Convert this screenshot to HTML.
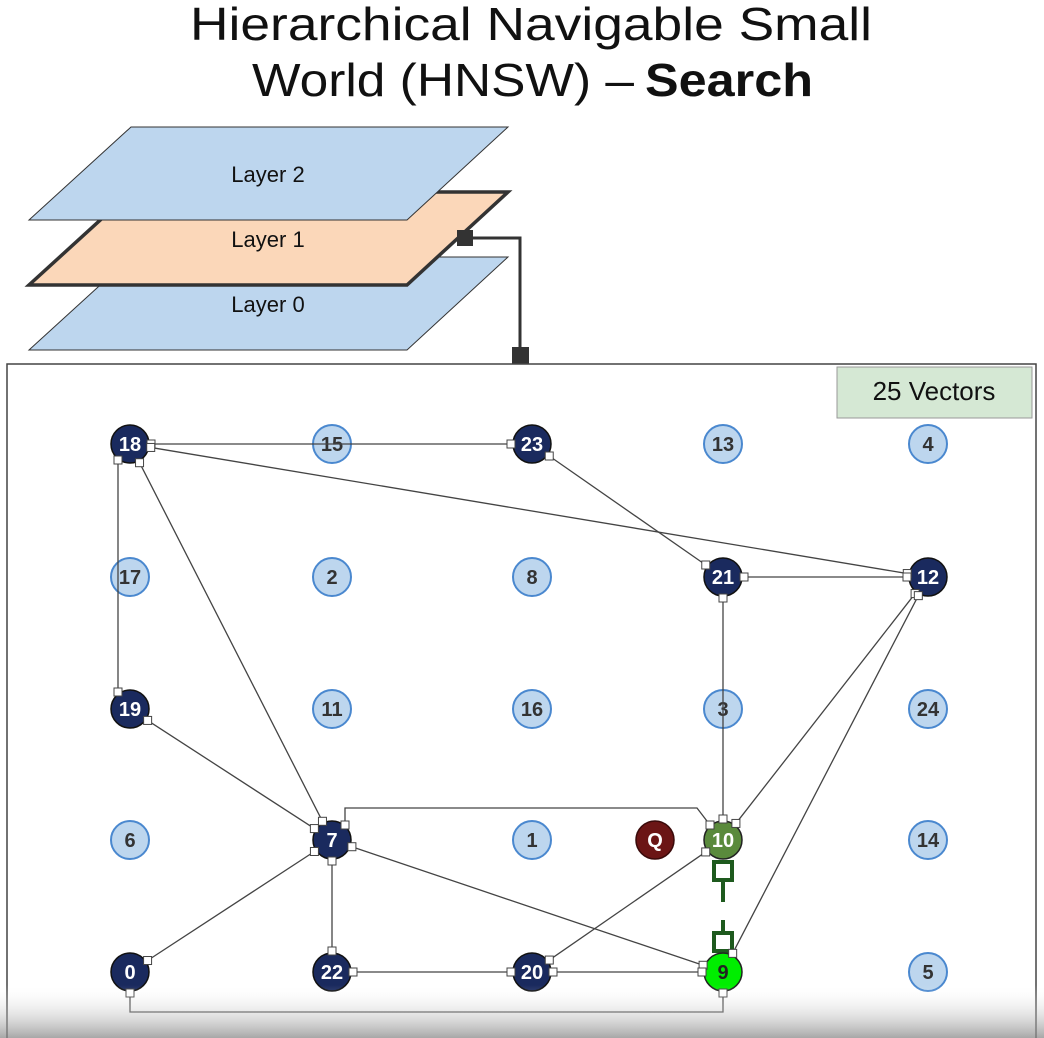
<!DOCTYPE html>
<html><head><meta charset="utf-8"><style>
html,body{margin:0;padding:0;background:#fff;}
svg{display:block;font-family:"Liberation Sans",Arial,sans-serif;}
</style></head><body>
<svg id="s" width="1044" height="1038" viewBox="0 0 1044 1038" xmlns="http://www.w3.org/2000/svg">
<defs>
<linearGradient id="fade" x1="0" y1="0" x2="0" y2="1">
<stop offset="0" stop-color="#ffffff" stop-opacity="0"/>
<stop offset="1" stop-color="#8a8a8a" stop-opacity="0.75"/>
</linearGradient>
</defs>
<text x="190" y="40" font-size="46" textLength="682" lengthAdjust="spacingAndGlyphs" fill="#111">Hierarchical Navigable Small</text>
<text x="252" y="96" font-size="46" fill="#111" textLength="382" lengthAdjust="spacingAndGlyphs">World (HNSW) –</text>
<text x="645" y="96" font-size="46" font-weight="bold" fill="#111" textLength="168" lengthAdjust="spacingAndGlyphs">Search</text>

<polygon points="131,257 508,257 407,350 29,350" fill="#bdd6ee" stroke="#333" stroke-width="1"/>
<text x="268" y="312" font-size="22" text-anchor="middle" fill="#111">Layer 0</text>
<polygon points="131,192 508,192 407,285 29,285" fill="#fbd7b9" stroke="#333" stroke-width="3.5"/>
<text x="268" y="247" font-size="22" text-anchor="middle" fill="#111">Layer 1</text>
<polygon points="131,127 508,127 407,220 29,220" fill="#bdd6ee" stroke="#333" stroke-width="1"/>
<text x="268" y="182" font-size="22" text-anchor="middle" fill="#111">Layer 2</text>
<polyline points="465,238 520,238 520,355" fill="none" stroke="#333" stroke-width="3"/>
<rect x="457" y="230" width="16" height="16" fill="#333"/>
<rect x="512" y="347" width="17" height="17" fill="#333"/>

<rect x="7" y="364" width="1029" height="700" fill="#fff" stroke="#444" stroke-width="1.5"/>
<rect x="837" y="367" width="195" height="51" fill="#d5e8d4" stroke="#999" stroke-width="1"/>
<text x="934" y="400" font-size="26" text-anchor="middle" fill="#111">25 Vectors</text>
<g id="g"></g>
<rect x="0" y="985" width="1044" height="53" fill="url(#fade)"/>
</svg>
<script>
var X=[130,332,532,723,928],Y=[444,577,709,840,972];
var grid=[[18,15,23,13,4],[17,2,8,21,12],[19,11,16,3,24]];
var P={};
grid.forEach((r,j)=>r.forEach((n,i)=>P[n]=[X[i],Y[j]]));
P[6]=[130,840];P[7]=[332,840];P[1]=[532,840];P.Q=[655,840];P[10]=[723,840];P[14]=[928,840];
[0,22,20,9,5].forEach((n,i)=>P[n]=[X[i],Y[4]]);
var dark=[18,23,21,12,19,7,0,22,20];
var R=19;
var g=document.getElementById('g');var h='',h2='';
var sq=[];
function node(k){var p=P[k],n=isNaN(k)?k:+k;var fill,st,tc,sw=1.5;
 if(k=='Q'){fill='#6b1515';st='#3a0a0a';tc='#fff';}
 else if(n==10){fill='#5a8a3c';st='#222';tc='#fff';}
 else if(n==9){fill='#00ee00';st='#222';tc='#222';}
 else if(dark.indexOf(n)>=0){fill='#1a2a5e';st='#111';tc='#fff';}
 else {fill='#bdd6ee';st='#4a88cf';tc='#333';sw=2;}
 return '<circle cx="'+p[0]+'" cy="'+p[1]+'" r="'+R+'" fill="'+fill+'" stroke="'+st+'" stroke-width="'+sw+'"/>'+
 '<text x="'+p[0]+'" y="'+(p[1]+7)+'" font-size="20" font-weight="bold" text-anchor="middle" fill="'+tc+'">'+k+'</text>';}
var special=[10,9,'Q'].map(String);
for(var k in P){var n=+k; if(dark.indexOf(n)<0 && special.indexOf(k)<0) h+=node(k);}
function ep(a,b){var p=P[a],q=P[b];var dx=q[0]-p[0],dy=q[1]-p[1],l=Math.hypot(dx,dy);return [p[0]+dx/l*(R+2),p[1]+dy/l*(R+2)];}
var E=[[18,23],[18,12],[18,7],[23,21],[21,12],[21,10],[19,7],[7,9],[7,0],[7,22],[22,20],[20,9],[20,10],[12,10],[12,9]];
E.forEach(e=>{var a=ep(e[0],e[1]),b=ep(e[1],e[0]);h+='<line x1="'+a[0]+'" y1="'+a[1]+'" x2="'+b[0]+'" y2="'+b[1]+'" stroke="#444" stroke-width="1.3"/>';sq.push(a,b);});
h+='<line x1="118" y1="460" x2="118" y2="692" stroke="#444" stroke-width="1.3"/>';sq.push([118,460],[118,692]);
h+='<polyline points="345,825 345,808 697,808 710,825" fill="none" stroke="#444" stroke-width="1.3"/>';
sq.push([345,825],[710,825]);
h+='<polyline points="130,993 130,1012 723,1012 723,993" fill="none" stroke="#444" stroke-width="1.3"/>';
sq.push([130,993],[723,993]);
h+='<line x1="723" y1="880" x2="723" y2="902" stroke="#1e5a1e" stroke-width="4"/><line x1="723" y1="920" x2="723" y2="935" stroke="#1e5a1e" stroke-width="4"/>';
h+='<rect x="714" y="862" width="18" height="18" fill="#fff" stroke="#1e5a1e" stroke-width="4"/><rect x="714" y="933" width="18" height="18" fill="#fff" stroke="#1e5a1e" stroke-width="4"/>';
for(var k in P){var n=+k; if(dark.indexOf(n)>=0 || special.indexOf(k)>=0) h+=node(k);}
sq.forEach(s=>{h+='<rect x="'+(s[0]-4)+'" y="'+(s[1]-4)+'" width="8" height="8" fill="#fff" stroke="#444" stroke-width="1"/>';});
g.innerHTML=h;
</script>
</body></html>
